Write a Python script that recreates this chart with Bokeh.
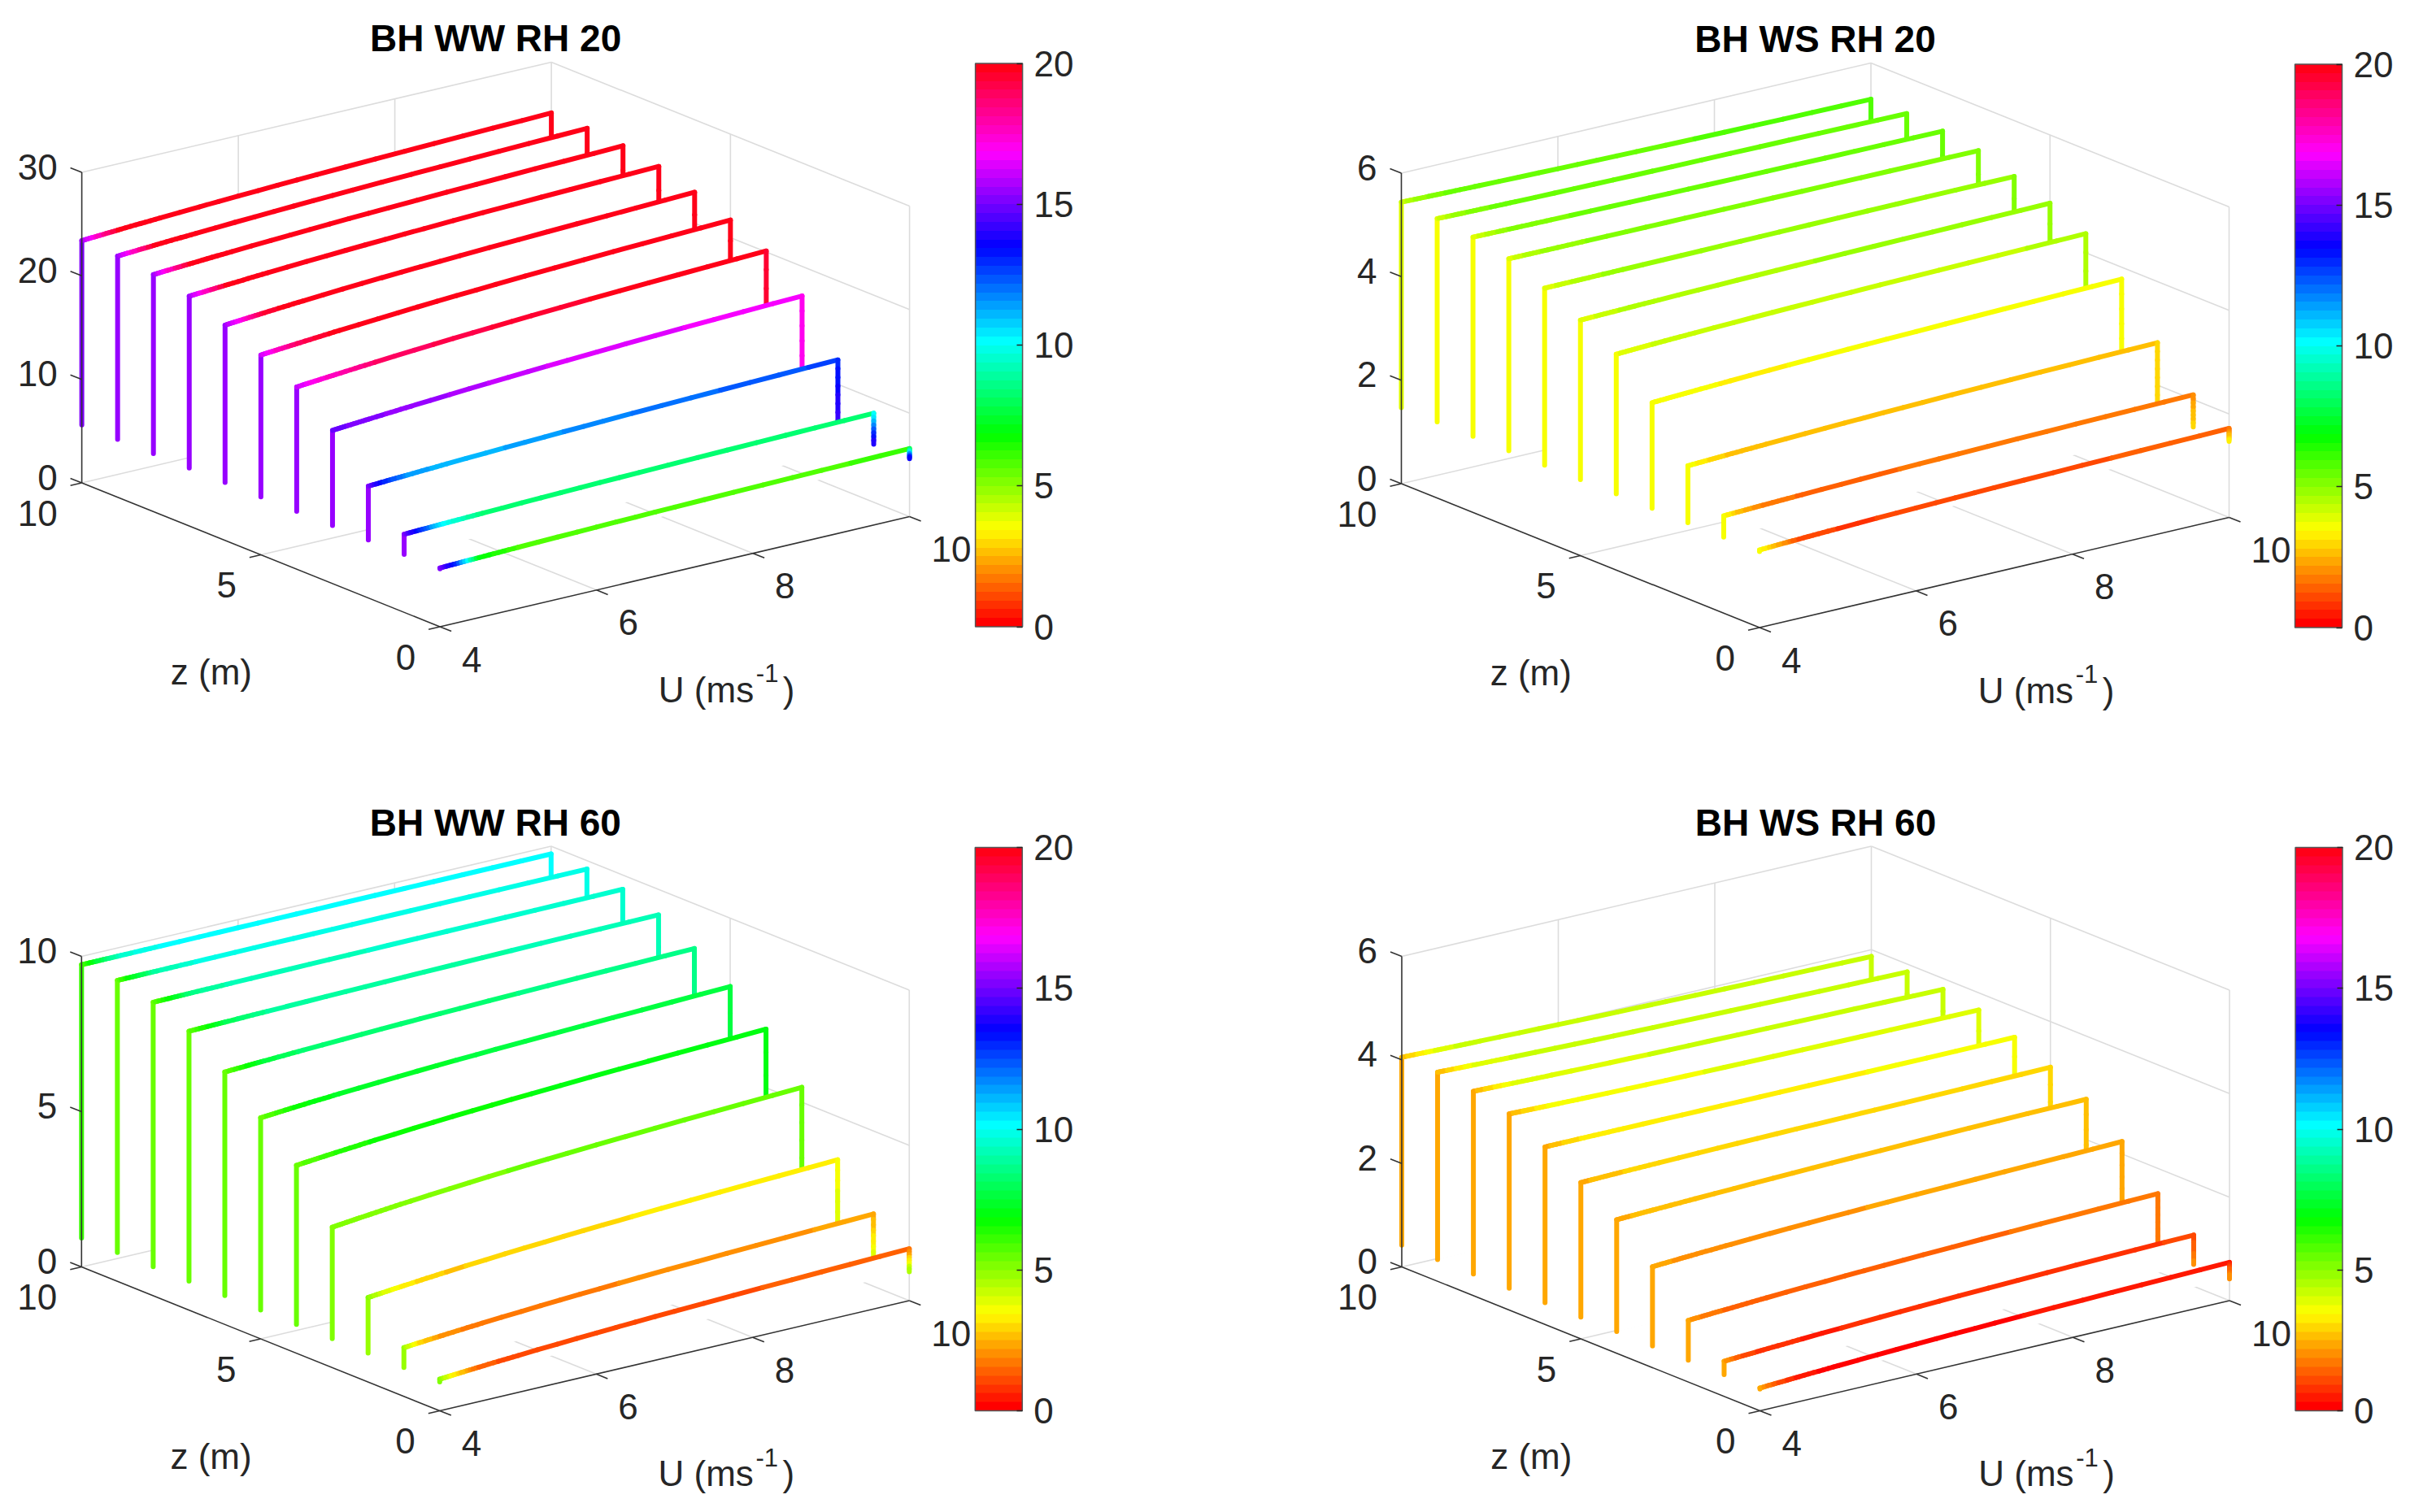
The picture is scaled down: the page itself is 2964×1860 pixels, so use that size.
import colorsys
import numpy as np
from bokeh.embed import file_html
from bokeh.resources import INLINE
from bokeh.plotting import figure
from bokeh.layouts import column, row
from bokeh.models import ColorBar, LinearColorMapper, FixedTicker, Range1d, ColumnDataSource
from bokeh.core.properties import value

# ---------------------------------------------------------------- data
z_levels = [10, 9, 8, 7, 6, 5, 4, 3, 2, 1, 0]
U_stations = [4, 5.5, 7, 8.5, 10]
color_U = [4, 4.2, 4.5, 5, 7, 10]
U_ticks = [4, 6, 8, 10]
z_ticks = [0, 5, 10]
cbar_ticks = [0, 5, 10, 15, 20]

titles = ["BH WW RH 20", "BH WS RH 20", "BH WW RH 60", "BH WS RH 60"]

ww20_ticks = [0, 10, 20, 30]
ww20_base = 5.6
ww20_h = [
    [23.4, 24.0, 24.45, 24.8, 25.1],
    [23.3, 23.9, 24.35, 24.7, 25.0],
    [22.9, 23.55, 24.0, 24.4, 24.7],
    [22.2, 22.9, 23.4, 23.8, 24.1],
    [20.8, 21.6, 22.2, 22.6, 23.0],
    [19.3, 20.15, 20.8, 21.3, 21.7],
    [17.6, 18.5, 19.15, 19.7, 20.1],
    [14.8, 15.6, 16.25, 16.75, 17.15],
    [10.8, 11.35, 11.75, 12.1, 12.36],
    [7.55, 7.9, 8.2, 8.4, 8.6],
    [5.68, 6.0, 6.23, 6.42, 6.57],
]
ww20_c = [
    [15.5, 17.5, 20, 20, 20, 20],
    [15.6, 17.5, 20, 20, 20, 20],
    [15.6, 17.5, 20, 20, 20, 20],
    [15.6, 17.5, 20, 20, 20, 20],
    [15.6, 17, 19.5, 20, 20, 20],
    [16.2, 17.5, 19, 20, 20, 20],
    [16, 17, 17.8, 18.8, 19.6, 20],
    [14.8, 15, 15.2, 15.5, 16.4, 16.8],
    [15, 13, 11.5, 11, 11.8, 12.6],
    [15, 13, 10, 8.4, 8.2, 8.3],
    [15, 13, 7, 5.8, 5.8, 6.0],
]
ww20_left = [15.2, 15.5, 15.5, 15.5, 15.5, 15.5, 15.5, 15.5, 15.5, 15.5, 15]
ww20_rtop = [20, 20, 20, 20, 20, 20, 19.5, 17, 13, 10, 8]
ww20_rbot = [20, 20, 20, 20, 20, 20, 19, 16.8, 14.5, 14.5, 14.5]

ws20_ticks = [0, 2, 4, 6]
ws20_base = 1.47
ws20_h = [
    [5.44, 5.39, 5.35, 5.32, 5.30],
    [5.40, 5.36, 5.34, 5.32, 5.30],
    [5.32, 5.29, 5.27, 5.25, 5.24],
    [5.18, 5.17, 5.16, 5.15, 5.14],
    [4.89, 4.90, 4.91, 4.92, 4.92],
    [4.55, 4.60, 4.63, 4.66, 4.68],
    [4.17, 4.25, 4.30, 4.34, 4.37],
    [3.51, 3.61, 3.67, 3.73, 3.77],
    [2.57, 2.66, 2.73, 2.78, 2.82],
    [1.88, 1.96, 2.01, 2.06, 2.09],
    [1.50, 1.58, 1.64, 1.68, 1.72],
]
ws20_c = [
    [4.2, 4.8, 5.3, 5.5, 5.6, 5.7],
    [4.0, 4.7, 5.2, 5.5, 5.6, 5.6],
    [3.9, 4.5, 5.1, 5.3, 5.4, 5.4],
    [3.9, 4.4, 4.8, 5.0, 5.1, 5.2],
    [3.8, 4.2, 4.6, 4.8, 4.9, 5.0],
    [3.8, 4.1, 4.4, 4.5, 4.7, 4.7],
    [3.7, 3.9, 4.1, 4.2, 4.3, 4.4],
    [3.7, 3.6, 3.5, 3.4, 3.5, 3.6],
    [3.7, 3.2, 2.8, 2.5, 2.6, 2.8],
    [3.7, 2.6, 1.8, 1.5, 1.6, 1.8],
    [3.7, 2.6, 1.2, 0.9, 1.1, 1.4],
]
ws20_left = [3.9, 3.7, 3.7, 3.7, 3.7, 3.7, 3.7, 3.7, 3.7, 3.7, 3.7]
ws20_rtop = [5.7, 5.6, 5.4, 5.2, 5.0, 4.7, 4.4, 3.7, 2.9, 2.0, 1.6]
ws20_rbot = [5.7, 5.6, 5.4, 5.2, 5.0, 4.7, 4.4, 3.7, 2.9, 3.0, 3.4]

ww60_ticks = [0, 5, 10]
ww60_base = 0.93
ww60_h = [
    [9.73, 9.74, 9.74, 9.75, 9.75],
    [9.69, 9.70, 9.72, 9.72, 9.73],
    [9.45, 9.48, 9.51, 9.52, 9.54],
    [8.98, 9.05, 9.11, 9.15, 9.18],
    [8.13, 8.29, 8.40, 8.49, 8.56],
    [7.12, 7.37, 7.55, 7.68, 7.80],
    [6.05, 6.36, 6.58, 6.75, 6.89],
    [4.52, 4.88, 5.12, 5.32, 5.48],
    [2.72, 3.05, 3.28, 3.46, 3.61],
    [1.57, 1.85, 2.05, 2.20, 2.33],
    [1.02, 1.26, 1.43, 1.56, 1.67],
]
ww60_c = [
    [5.8, 7.5, 9.5, 10, 10.2, 10.2],
    [5.6, 7.2, 9, 9.7, 9.9, 10],
    [5.5, 6.8, 8.6, 9.2, 9.4, 9.6],
    [5.5, 6.5, 8, 8.8, 9, 9.2],
    [5.5, 6.3, 7.6, 8.2, 8.4, 8.6],
    [5.5, 6, 6.8, 7.3, 7.6, 7.8],
    [5.5, 5.8, 6.3, 6.6, 6.9, 7],
    [5.2, 5.2, 5.2, 5.2, 5.4, 5.6],
    [5, 4, 3.2, 2.8, 3.1, 3.4],
    [4.8, 3, 2, 1.7, 1.9, 2.3],
    [5, 3.2, 1.4, 1, 1.1, 1.5],
]
ww60_left = [6, 5.6, 5.5, 5.5, 5.5, 5.5, 5.4, 5.2, 4.9, 4.8, 5]
ww60_rtop = [10, 9.8, 9.5, 9.2, 8.6, 7.8, 7, 5.6, 3.5, 2.4, 1.6]
ww60_rbot = [10, 9.8, 9.5, 9.2, 8.6, 7.8, 7, 5.6, 4.2, 4, 5]

ws60_ticks = [0, 2, 4, 6]
ws60_base = 0.42
ws60_h = [
    [4.05, 3.99, 3.94, 3.90, 3.87],
    [4.04, 3.97, 3.92, 3.88, 3.85],
    [3.95, 3.89, 3.85, 3.82, 3.79],
    [3.79, 3.74, 3.71, 3.69, 3.67],
    [3.43, 3.43, 3.42, 3.42, 3.42],
    [3.02, 3.06, 3.08, 3.10, 3.12],
    [2.58, 2.65, 2.71, 2.75, 2.78],
    [1.95, 2.06, 2.13, 2.19, 2.24],
    [1.19, 1.31, 1.39, 1.46, 1.51],
    [0.68, 0.79, 0.88, 0.94, 0.99],
    [0.44, 0.55, 0.63, 0.69, 0.74],
]
ws60_c = [
    [2.6, 3.2, 4, 4.2, 4.3, 4.3],
    [2.5, 3.1, 3.9, 4.1, 4.2, 4.2],
    [2.4, 3, 3.8, 4, 4.1, 4.1],
    [2.4, 2.9, 3.5, 3.6, 3.8, 3.8],
    [2.4, 2.8, 3.2, 3.3, 3.4, 3.5],
    [2.4, 2.6, 2.8, 2.9, 3, 3],
    [2.4, 2.5, 2.6, 2.6, 2.7, 2.8],
    [2.3, 2.2, 2.1, 2.1, 2.2, 2.3],
    [2.3, 1.8, 1.5, 1.4, 1.5, 1.7],
    [2.3, 1.3, 0.8, 0.6, 0.7, 1],
    [2.4, 1.3, 0.4, 0.2, 0.3, 0.6],
]
ws60_left = [2.2, 2.3, 2.3, 2.3, 2.3, 2.3, 2.3, 2.3, 2.3, 2.3, 2.4]
ws60_rtop = [4.3, 4.2, 4.1, 3.8, 3.5, 3, 2.8, 2.3, 1.7, 1, 0.6]
ws60_rbot = [4.3, 4.2, 4.1, 3.8, 3.5, 3, 2.8, 2.3, 1.7, 2, 2.4]

# ---------------------------------------------------------------- style
PALETTE = []
for i in range(64):
    r, g, b = colorsys.hsv_to_rgb(i / 64, 1, 1)
    PALETTE.append("#%02x%02x%02x" % (round(r * 255), round(g * 255), round(b * 255)))

FONT = value("Liberation Sans")
INK = "#262626"
GRID = "#dcdcdc"
FS = "44px"
LW = 6.0
PW, PH = 1474, 922


def col(v):
    return PALETTE[min(63, max(0, int(v / 20 * 64)))]


def panel(title, ox, oy, fx, fy, hticks, base, H, C, left, rtop, rbot):
    """ox, oy: picture position of the corner U=4, z=0, h=0. fx, fy: figure origin."""
    hmax = hticks[-1]

    def px(U, z, h):
        return ox + (np.asarray(U, float) - 4) / 6 * 577.5 - np.asarray(z, float) / 10 * 440.5

    def py(U, z, h):
        return oy - (np.asarray(U, float) - 4) / 6 * 135.5 - np.asarray(z, float) / 10 * 177.0 \
            - np.asarray(h, float) / hmax * 382.0

    p = figure(width=PW, height=PH, output_backend="svg", toolbar_location=None,
               x_range=Range1d(fx, fx + PW), y_range=Range1d(fy + PH, fy),
               min_border=0, outline_line_color=None)
    p.axis.visible = False
    p.grid.visible = False

    def seg(U0, z0, h0, U1, z1, h1, color, width):
        p.line([float(px(U0, z0, h0)), float(px(U1, z1, h1))],
               [float(py(U0, z0, h0)), float(py(U1, z1, h1))],
               line_color=color, line_width=width)

    # light box and grid
    U0, U1, Z1 = U_ticks[0], U_ticks[-1], z_ticks[-1]
    for U in U_ticks[1:-1]:
        seg(U, 0, 0, U, Z1, 0, GRID, 1.6)
        seg(U, Z1, 0, U, Z1, hmax, GRID, 1.6)
    for z in z_ticks[1:-1]:
        seg(U0, z, 0, U1, z, 0, GRID, 1.6)
        seg(U1, z, 0, U1, z, hmax, GRID, 1.6)
    for h in hticks[1:-1]:
        seg(U0, Z1, h, U1, Z1, h, GRID, 1.6)
        seg(U1, 0, h, U1, Z1, h, GRID, 1.6)
    seg(U0, Z1, hmax, U1, Z1, hmax, GRID, 1.6)
    seg(U1, 0, hmax, U1, Z1, hmax, GRID, 1.6)
    seg(U1, 0, 0, U1, 0, hmax, GRID, 1.6)
    seg(U1, Z1, 0, U1, Z1, hmax, GRID, 1.6)
    seg(U0, Z1, 0, U1, Z1, 0, GRID, 1.6)
    seg(U1, 0, 0, U1, Z1, 0, GRID, 1.6)

    # waterfall: a white curtain and a coloured line, back to front
    for k, z in enumerate(z_levels):
        Us = np.array(U_stations, float)
        hs = np.array(H[k], float)
        cu = list(color_U)
        fine_U = np.unique(np.concatenate([np.linspace(a, b, 9) for a, b in zip(cu[:-1], cu[1:])]))
        # a smooth curve drawn through the stations that were read
        fine_h = np.polyval(np.polyfit(Us - 7, hs, 3), fine_U - 7)
        fine_c = np.interp(fine_U, cu, C[k])
        top_l, top_r = float(fine_h[0]), float(fine_h[-1])

        patch_U = np.concatenate([[fine_U[0]], fine_U, [fine_U[-1]]])
        patch_h = np.concatenate([[base], fine_h, [base]])
        p.patch(px(patch_U, z, patch_h), py(patch_U, z, patch_h),
                fill_color="white", line_color=None)

        xs0, ys0, xs1, ys1, cs = [], [], [], [], []

        def add(Ua, ha, Ub, hb, c):
            xs0.append(float(px(Ua, z, ha)))
            ys0.append(float(py(Ua, z, ha)))
            xs1.append(float(px(Ub, z, hb)))
            ys1.append(float(py(Ub, z, hb)))
            cs.append(col(c))

        add(Us[0], base, Us[0], top_l, left[k])
        for i in range(len(fine_U) - 1):
            add(fine_U[i], fine_h[i], fine_U[i + 1], fine_h[i + 1], fine_c[i])
        steps = 8
        vs = np.linspace(top_r, base, steps + 1)
        cv = np.linspace(rtop[k], rbot[k], steps + 1)
        for i in range(steps):
            add(Us[-1], vs[i], Us[-1], vs[i + 1], cv[i])
        src = ColumnDataSource(dict(x0=xs0, y0=ys0, x1=xs1, y1=ys1, c=cs))
        p.segment("x0", "y0", "x1", "y1", source=src, line_color="c",
                  line_width=LW, line_cap="round")

    # dark axes
    seg(U0, Z1, 0, U0, Z1, hmax, "#333333", 1.6)
    seg(U0, Z1, 0, U0, 0, 0, "#333333", 1.6)
    seg(U0, 0, 0, U1, 0, 0, "#333333", 1.6)

    def line_px(x0, y0, x1, y1):
        p.line([x0, x1], [y0, y1], line_color="#333333", line_width=1.6)

    def label(x, y, text, align="center", baseline="middle", size=FS, color=INK, style="normal"):
        p.text([x], [y], text=[text], text_font=FONT, text_font_size=size, text_color=color,
               text_align=align, text_baseline=baseline, text_font_style=style)

    for h in hticks:
        x, y = float(px(U0, Z1, h)), float(py(U0, Z1, h))
        line_px(x, y, x - 14, y - 5.5)
        label(x - 30, y - 7, str(h), align="right")
    for z in z_ticks:
        x, y = float(px(U0, z, 0)), float(py(U0, z, 0))
        line_px(x, y, x - 14, y + 3.3)
        label(x - 30, y + 37, str(z), align="right")
    for U in U_ticks:
        x, y = float(px(U, 0, 0)), float(py(U, 0, 0))
        line_px(x, y, x + 14, y + 5.6)
        label(x + 27, y + 40, str(U), align="left")

    label(float(px(U0, 5, 0)) - 61, float(py(U0, 5, 0)) + 144, "z (m)")
    ux, uy = float(px(7, 0, 0)) - 20, float(py(7, 0, 0)) + 145
    label(ux, uy, "U (ms", align="left")
    label(ux + 120, uy - 20, "-1", align="left", size="31px")
    label(ux + 153, uy, ")", align="left")
    label((float(px(U0, Z1, 0)) + float(px(U1, 0, 0))) / 2, oy - 724, title,
          size="46px", color="black", style="bold")

    mapper = LinearColorMapper(palette=PALETTE, low=0, high=20)
    bar = ColorBar(color_mapper=mapper, ticker=FixedTicker(ticks=cbar_ticks),
                   width=58, height=693, padding=0, margin=0,
                   location=(ox + 658.5 - fx, fy + PH - oy),
                   major_label_text_font="Liberation Sans", major_label_text_font_size=FS,
                   major_label_text_color=INK, label_standoff=14,
                   major_tick_in=7, major_tick_out=0, major_tick_line_color=INK,
                   major_tick_line_width=1.5, minor_tick_line_color=None,
                   bar_line_color="#555555", bar_line_width=1.5,
                   border_line_color=None, background_fill_color=None)
    p.add_layout(bar, "center")
    return p


tl = panel(titles[0], 540.6, 770.5, 0, 0, ww20_ticks, ww20_base, ww20_h, ww20_c, ww20_left, ww20_rtop, ww20_rbot)
tr = panel(titles[1], 2163.5, 771.5, PW, 0, ws20_ticks, ws20_base, ws20_h, ws20_c, ws20_left, ws20_rtop, ws20_rbot)
bl = panel(titles[2], 540.3, 1735, 0, PH, ww60_ticks, ww60_base, ww60_h, ww60_c, ww60_left, ww60_rtop, ww60_rbot)
br = panel(titles[3], 2164, 1735, PW, PH, ws60_ticks, ws60_base, ws60_h, ws60_c, ws60_left, ws60_rtop, ws60_rbot)

page = column(row(tl, tr), row(bl, br))
open("out.html", "w").write(file_html(page, INLINE))
